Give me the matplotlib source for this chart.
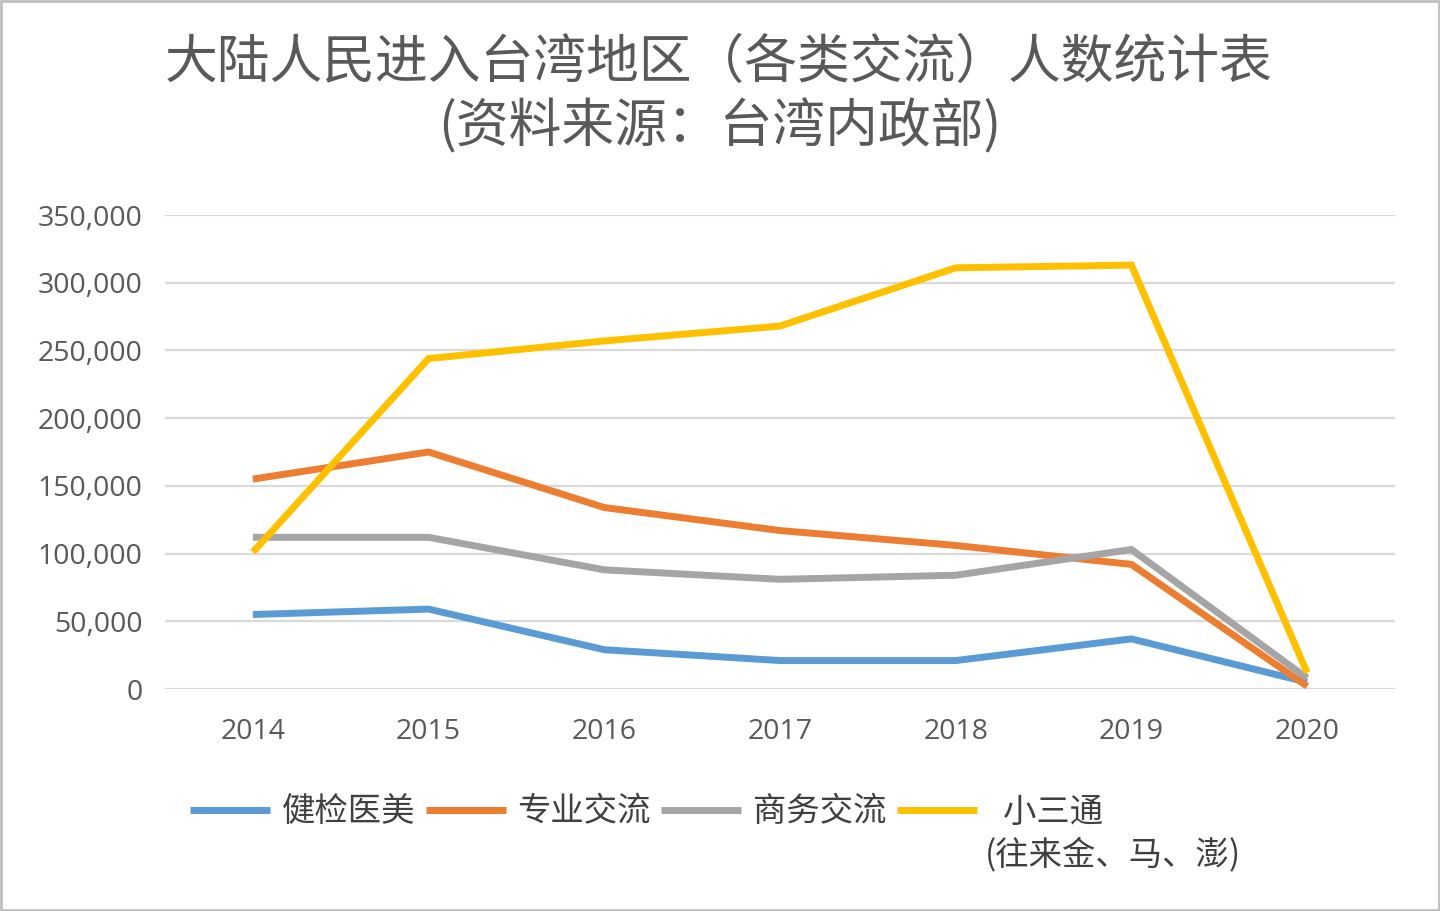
import matplotlib
matplotlib.use("Agg")
import matplotlib.pyplot as plt
from matplotlib.patches import Rectangle

years = ["2014", "2015", "2016", "2017", "2018", "2019", "2020"]
health = [55000, 59000, 29000, 21000, 21000, 37000, 5000]
professional = [155000, 175000, 134000, 117000, 106000, 92000, 2000]
business = [112000, 112000, 88000, 81000, 84000, 103000, 8000]
mini_links = [101000, 244000, 257000, 268000, 311000, 313000, 12000]

series_names = ["健检医美", "专业交流", "商务交流", "  小三通"]
legend_extra = "(往来金、马、澎)"
colors = ["#5B9BD5", "#ED7D31", "#A5A5A5", "#FFC000"]
yticks = [0, 50000, 100000, 150000, 200000, 250000, 300000, 350000]

plt.rcParams['font.family'] = ['Noto Sans CJK SC', 'DejaVu Sans']

W, H = 1440, 911
fig = plt.figure(figsize=(W / 100, H / 100), dpi=100)
fig.patch.set_facecolor("white")
ax = fig.add_axes([165 / W, 1 - 689 / H, (1395 - 165) / W, (689 - 215) / H])

x = list(range(len(years)))
for vals, name, c in zip([health, professional, business, mini_links], series_names, colors):
    ax.plot(x, vals, color=c, lw=5, label=name, solid_joinstyle="miter", solid_capstyle="butt")

ax.set_xlim(-0.5, len(years) - 0.5)
ax.set_ylim(0, 350000)
ax.set_yticks(yticks)
ax.set_yticklabels([f"{v:,}" for v in yticks], fontfamily="Open Sans", fontsize=20.5, color="#595959")
ax.set_xticks(x)
ax.set_xticklabels(years, fontfamily="Open Sans", fontsize=20.5, color="#595959")
ax.tick_params(axis="both", length=0)
ax.tick_params(axis="y", pad=16)
ax.tick_params(axis="x", pad=21)
ax.grid(axis="y", color="#d9d9d9", lw=1.6)
ax.set_axisbelow(True)
for s in ax.spines.values():
    s.set_visible(False)

fig.text(719 / W, 1 - 62 / H, "大陆人民进入台湾地区（各类交流）人数统计表", ha="center", va="center",
         fontsize=38, color="#595959", fontweight="light")
fig.text(720 / W, 1 - 127 / H, "(资料来源：台湾内政部)", ha="center", va="center",
         fontsize=38, color="#595959", fontweight="light")

leg = fig.legend(loc="center left", bbox_to_anchor=(190 / W, 1 - 812 / H), ncol=4, frameon=False,
                 fontsize=24, handlelength=2.4, handletextpad=0.36, columnspacing=0.3,
                 borderaxespad=0, borderpad=0, labelcolor="#404040")
for t in leg.get_texts():
    t.set_fontweight("light")
fig.text(985 / W, 1 - 855 / H, legend_extra, ha="left", va="center", fontsize=24,
         color="#404040", fontweight="light")

fig.add_artist(Rectangle((0.001, 0.001), 0.998, 0.998, transform=fig.transFigure,
                         fill=False, edgecolor="#bfbfbf", lw=2))

fig.savefig("out.png", dpi=100)
